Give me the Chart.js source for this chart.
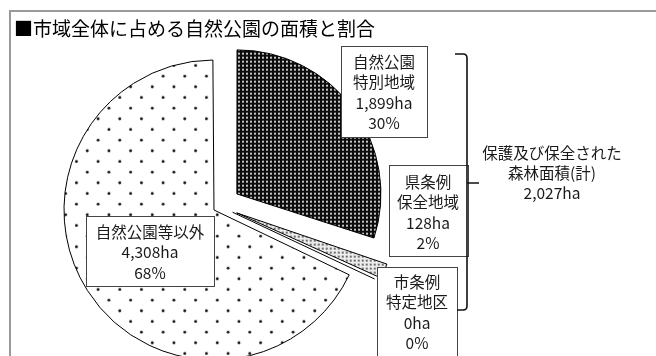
<!DOCTYPE html>
<html>
<head>
<meta charset="utf-8">
<script src="https://cdn.jsdelivr.net/npm/chart.js@4/dist/chart.umd.min.js"></script>
<style>
  html, body { margin: 0; padding: 0; background: #fff; }
  canvas { display: block; }
</style>
</head>
<body>
<canvas id="c" width="656" height="356"></canvas>
<script>
// ---- data ----
const categories = ['自然公園特別地域', '県条例保全地域', '市条例特定地区', '自然公園等以外'];
const labelNames = [['自然公園', '特別地域'], ['県条例', '保全地域'], ['市条例', '特定地区'], ['自然公園等以外']];
const areaHa = [1899, 128, 0, 4308];
const forestGroup = [0, 1, 2];            // slices summed in the bracket total
const titleText = '■市域全体に占める自然公園の面積と割合';
const bracketText = ['保護及び保全された', '森林面積(計)'];

// ---- helpers ----
const total = areaHa.reduce((a, b) => a + b, 0);
const fmtHa = v => v.toLocaleString('en-US') + 'ha';
const fmtPct = v => Math.round(v / total * 100) + '%';
const FONT = '"Noto Sans CJK JP", "Noto Sans", sans-serif';

const canvas = document.getElementById('c');
const ctx = canvas.getContext('2d');

function makePattern(w, h, paint) {
  const tile = document.createElement('canvas');
  tile.width = w; tile.height = h;
  paint(tile.getContext('2d'), w, h);
  return ctx.createPattern(tile, 'repeat');
}

// dense dark fill: light dots on black
const darkFill = makePattern(4, 4, (g) => {
  g.fillStyle = '#0c0c0c'; g.fillRect(0, 0, 4, 4);
  g.fillStyle = '#c4c4c4'; g.fillRect(1, 1, 2, 2);
});
// dense light fill: grey dots on white
const lightFill = makePattern(4, 4, (g) => {
  g.fillStyle = '#ececec'; g.fillRect(0, 0, 4, 4);
  g.fillStyle = '#6e6e6e'; g.fillRect(1, 1, 2, 2);
});
// sparse fill: small dots on white, staggered rows
const sparseFill = makePattern(65, 64, (g, w, h) => {
  g.fillStyle = '#fff'; g.fillRect(0, 0, w, h);
  g.fillStyle = '#111';
  const sx = w / 3, sy = h / 3;
  for (let i = 0; i < 3; i++) {
    for (let j = 0; j < 3; j++) {
      const pts = [[6.5 + i * sx, 19 + j * sy], [6.5 + i * sx + sx / 2, 19 + j * sy + sy / 2]];
      for (const [px, py] of pts) {
        const x = ((px % w) + w) % w, y = ((py % h) + h) % h;
        g.beginPath(); g.arc(x, y, 1.45, 0, Math.PI * 2); g.fill();
      }
    }
  }
});

const sliceFills = [darkFill, lightFill, lightFill, sparseFill];
const sliceOffsets = [84, 72, 56, 28];

// label boxes placed beside the slices (box rect + text centre x + first line y)
const labelBoxes = [
  { x: 341, y: 46, w: 86, h: 91, cx: 384, y0: 62 },
  { x: 389, y: 165, w: 79, h: 91, cx: 428, y0: 182 },
  { x: 377, y: 267, w: 80, h: 120, cx: 417, y0: 282 },
  { x: 86, y: 216, w: 128, h: 70, cx: 150, y0: 232 }
];
const LINE_H = 20.5;

const decorPlugin = {
  id: 'decor',
  beforeDraw(chart) {
    const g = chart.ctx;
    g.save();
    g.fillStyle = '#fff';
    g.fillRect(0, 0, chart.width, chart.height);
    g.strokeStyle = '#9a9a9a';
    g.lineWidth = 2;
    g.strokeRect(10, 11, chart.width + 20, chart.height + 20);
    g.restore();
  },
  afterDatasetsDraw(chart) {
    // a zero-sized slice still shows its edge as a single radial line
    const g = chart.ctx;
    const meta = chart.getDatasetMeta(0);
    const ds = chart.data.datasets[0];
    meta.data.forEach((arc, i) => {
      const p = arc.getProps(['x', 'y', 'startAngle', 'endAngle', 'outerRadius'], true);
      if (p.endAngle - p.startAngle !== 0) return;
      const off = (ds.offset[i] || 0) / 4;
      const dx = Math.cos(p.startAngle), dy = Math.sin(p.startAngle);
      const sx = p.x + dx * off, sy = p.y + dy * off;
      const len = p.outerRadius + off;
      g.save();
      g.strokeStyle = '#000';
      g.lineWidth = 1;
      g.beginPath();
      g.moveTo(sx, sy);
      g.lineTo(sx + dx * len, sy + dy * len);
      g.stroke();
      g.restore();
    });
  },
  afterDraw(chart) {
    const g = chart.ctx;
    g.save();
    // title
    g.fillStyle = '#000';
    g.font = '19px ' + FONT;
    g.textAlign = 'left';
    g.textBaseline = 'middle';
    g.fillText(titleText, 14, 29);

    // slice labels
    g.font = '15.5px ' + FONT;
    g.textAlign = 'center';
    labelBoxes.forEach((b, i) => {
      g.fillStyle = '#fff';
      g.fillRect(b.x, b.y, b.w, b.h);
      g.strokeStyle = '#444';
      g.lineWidth = 1;
      g.strokeRect(b.x + 0.5, b.y + 0.5, b.w, b.h);
      const lines = [...labelNames[i], fmtHa(areaHa[i]), fmtPct(areaHa[i])];
      g.fillStyle = '#1a1a1a';
      lines.forEach((t, k) => g.fillText(t, b.cx, b.y0 + k * LINE_H));
    });

    // bracket grouping the protected forest slices
    g.strokeStyle = '#111';
    g.lineWidth = 1.6;
    g.beginPath();
    g.moveTo(455, 54);
    g.lineTo(463, 54);
    g.quadraticCurveTo(467, 54, 467, 58);
    g.lineTo(467, 306);
    g.quadraticCurveTo(467, 310, 463, 310);
    g.lineTo(457, 310);
    g.moveTo(467, 183);
    g.lineTo(479, 183);
    g.stroke();

    const forestTotal = forestGroup.reduce((s, i) => s + areaHa[i], 0);
    const bl = [...bracketText, fmtHa(forestTotal)];
    g.fillStyle = '#1a1a1a';
    bl.forEach((t, k) => g.fillText(t, 552, 153 + k * 20));
    g.restore();
  }
};

new Chart(canvas, {
  type: 'pie',
  data: {
    labels: categories,
    datasets: [{
      data: areaHa,
      backgroundColor: sliceFills,
      borderColor: '#000',
      borderWidth: 1,
      offset: sliceOffsets,
      clip: false
    }]
  },
  options: {
    responsive: false,
    animation: false,
    events: [],
    radius: 143,
    layout: { padding: { left: 0, right: 216.2, top: 56.5, bottom: 0 } },
    plugins: {
      legend: { display: false },
      tooltip: { enabled: false },
      title: { display: false }
    }
  },
  plugins: [decorPlugin]
});
</script>
</body>
</html>
